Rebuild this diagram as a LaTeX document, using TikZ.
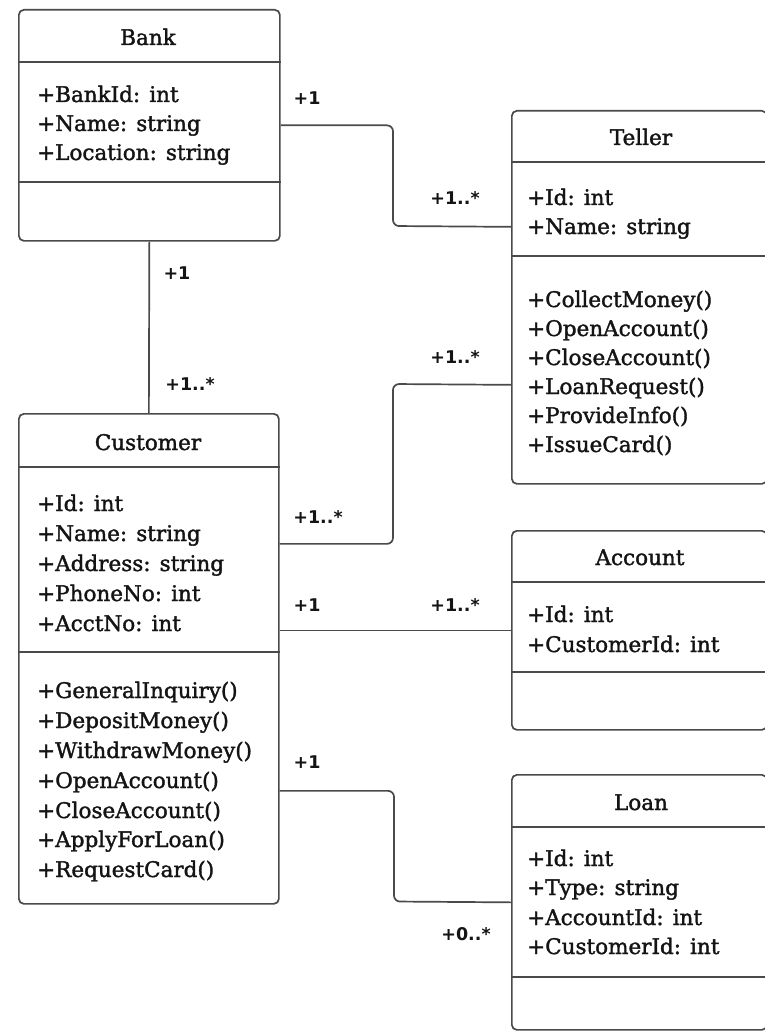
\documentclass[tikz,border=0pt]{standalone}
\usepackage{fontspec}
\setmainfont{DejaVu Serif}[FakeBold=1.2]
\newfontfamily\clsfont{DejaVu Serif}[FakeBold=1.6]
\newfontfamily\labfont{DejaVu Sans}
\definecolor{linec}{HTML}{4A4A4A}
\definecolor{textc}{HTML}{141414}
\begin{document}
\begin{tikzpicture}[x=1pt,y=-1pt,
  cls/.style={draw=linec, line width=1.7pt, rounded corners=5pt, inner sep=0pt, anchor=north west, fill=white},
  div/.style={draw=linec, line width=1.7pt},
  conn/.style={draw=linec, line width=1.7pt, rounded corners=6pt},
  ttl/.style={anchor=base, inner sep=0pt, text=textc, font=\clsfont\fontsize{21.5}{26}\selectfont},
  attr/.style={anchor=base west, inner sep=0pt, text=textc, font=\clsfont\fontsize{21.5}{26}\selectfont},
  mult/.style={inner sep=0pt, text=textc, font=\labfont\bfseries\fontsize{17.5}{20}\selectfont}]
\useasboundingbox[fill=white] (0,0) rectangle (764,1032);

% ---- class boxes
\node[cls, minimum width=261pt, minimum height=231pt] (bank) at (18,9) {};
\node[cls, minimum width=255pt, minimum height=373pt] (teller) at (511,110) {};
\node[cls, minimum width=260pt, minimum height=490pt] (customer) at (18,413) {};
\node[cls, minimum width=255pt, minimum height=199pt] (account) at (511,530) {};
\node[cls, minimum width=255pt, minimum height=255pt] (loan) at (511,774) {};

% ---- dividers
\draw[div] ([yshift=-53pt]bank.north west) -- ([yshift=-53pt]bank.north east);
\draw[div] ([yshift=-173pt]bank.north west) -- ([yshift=-173pt]bank.north east);
\draw[div] ([yshift=-52pt]teller.north west) -- ([yshift=-52pt]teller.north east);
\draw[div] ([yshift=-146pt]teller.north west) -- ([yshift=-146pt]teller.north east);
\draw[div] ([yshift=-54pt]customer.north west) -- ([yshift=-54pt]customer.north east);
\draw[div] ([yshift=-239pt]customer.north west) -- ([yshift=-239pt]customer.north east);
\draw[div] ([yshift=-52pt]account.north west) -- ([yshift=-52pt]account.north east);
\draw[div] ([yshift=-142pt]account.north west) -- ([yshift=-142pt]account.north east);
\draw[div] ([yshift=-53pt]loan.north west) -- ([yshift=-53pt]loan.north east);
\draw[div] ([yshift=-203pt]loan.north west) -- ([yshift=-203pt]loan.north east);

% ---- titles
\node[ttl] (bankT) at (148,45) {Bank};
\node[ttl] (tellerT) at (641,145) {Teller};
\node[ttl] (customerT) at (148,450) {Customer};
\node[ttl] (accountT) at (640,565) {Account};
\node[ttl] (loanT) at (641,810) {Loan};

% ---- Bank
\node[attr] (bank1) at (37,102) {+BankId: int};
\node[attr] (bank2) at (37,131) {+Name: string};
\node[attr] (bank3) at (37,160) {+Location: string};

% ---- Teller
\node[attr] (tel1) at (527,205) {+Id: int};
\node[attr] (tel2) at (527,234) {+Name: string};
\node[attr] (tel3) at (527,307) {+CollectMoney()};
\node[attr] (tel4) at (527,336) {+OpenAccount()};
\node[attr] (tel5) at (527,365) {+CloseAccount()};
\node[attr] (tel6) at (527,394) {+LoanRequest()};
\node[attr] (tel7) at (527,423) {+ProvideInfo()};
\node[attr] (tel8) at (527,452) {+IssueCard()};

% ---- Customer
\node[attr] (cus1) at (37,511) {+Id: int};
\node[attr] (cus2) at (37,541) {+Name: string};
\node[attr] (cus3) at (37,571) {+Address: string};
\node[attr] (cus4) at (37,601) {+PhoneNo: int};
\node[attr] (cus5) at (37,631) {+AcctNo: int};
\node[attr] (cus6) at (37,698) {+GeneralInquiry()};
\node[attr] (cus7) at (37,728) {+DepositMoney()};
\node[attr] (cus8) at (37,758) {+WithdrawMoney()};
\node[attr] (cus9) at (37,788) {+OpenAccount()};
\node[attr] (cus10) at (37,818) {+CloseAccount()};
\node[attr] (cus11) at (37,847) {+ApplyForLoan()};
\node[attr] (cus12) at (37,877) {+RequestCard()};

% ---- Account
\node[attr] (acc1) at (527,622) {+Id: int};
\node[attr] (acc2) at (527,652) {+CustomerId: int};

% ---- Loan
\node[attr] (loan1) at (527,866) {+Id: int};
\node[attr] (loan2) at (527,895) {+Type: string};
\node[attr] (loan3) at (527,925) {+AccountId: int};
\node[attr] (loan4) at (527,954) {+CustomerId: int};

% ---- connectors
\draw[conn] (bank.east) -| (393,226) -- ([yshift=70.5pt]teller.west);
\draw[conn] (bank.south) -- (customer.north);
\draw[conn] ([yshift=115pt]customer.east) -| (393,384) -- ([yshift=-87.5pt]teller.west);
\draw[conn] (customer.east |- account.west) -- (account.west);
\draw[conn] ([yshift=-132pt]customer.east) -| (394,901.5) -- (loan.west);

% ---- multiplicities
\node[mult] (m1) at (307,98) {+1};
\node[mult] (m2) at (455,198) {+1..*};
\node[mult] (m3) at (177,273) {+1};
\node[mult] (m4) at (190,384) {+1..*};
\node[mult] (m5) at (455,357) {+1..*};
\node[mult] (m6) at (318,517) {+1..*};
\node[mult] (m7) at (307,605) {+1};
\node[mult] (m8) at (455,605) {+1..*};
\node[mult] (m9) at (307,762) {+1};
\node[mult] (m10) at (466,934) {+0..*};
\end{tikzpicture}
\end{document}
